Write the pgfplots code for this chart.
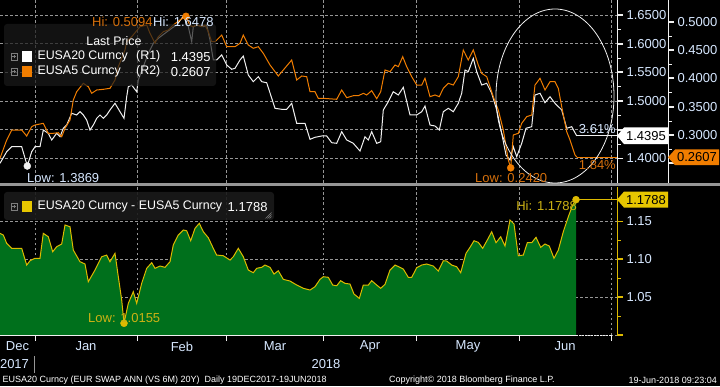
\documentclass[border=0pt]{standalone}
\usepackage{pgfplots}
\pgfplotsset{compat=1.18}
\usepackage{pgfplotstable}
\usepackage{fontspec}
\setmainfont{Liberation Sans}

\definecolor{wline}{RGB}{240,240,240}
\definecolor{oline}{RGB}{240,125,0}
\definecolor{otext}{RGB}{214,112,12}
\definecolor{gfill}{RGB}{0,112,28}
\definecolor{yline}{RGB}{222,186,0}
\definecolor{ytext}{RGB}{205,178,20}
\definecolor{tagy}{RGB}{230,198,0}
\definecolor{gridc}{RGB}{150,150,150}
\definecolor{tickc}{RGB}{215,232,255}
\definecolor{sepc}{RGB}{150,150,150}
\definecolor{legbg}{RGB}{26,26,26}
\definecolor{iconc}{RGB}{125,125,125}

% EUSA20 Curncy (R1), x = trading-day position
\pgfplotstableread{
x y
0 1.3916
6.7 1.4118
11.7 1.4205
21.7 1.4205
27.3 1.3869
31.7 1.4118
35 1.4205
40 1.4205
43.3 1.4496
48.3 1.4439
51.7 1.4322
56.7 1.4439
60 1.4379
63.3 1.4526
66.7 1.4583
71.7 1.4787
76.7 1.4758
80 1.4815
83.3 1.4758
86.7 1.4670
90 1.4496
93.3 1.4583
96.7 1.4700
100 1.4758
103.3 1.4700
106.7 1.4758
110 1.4845
115 1.4961
120 1.4815
124 1.4700
126.7 1.5076
128.3 1.5251
131.7 1.5280
136.7 1.5163
138.3 1.5367
143.3 1.5599
148.3 1.5832
153.3 1.6007
158.3 1.6094
165 1.6181
171.7 1.6268
176.7 1.6325
183.3 1.6478
188.3 1.6296
191.7 1.6035
193.3 1.6296
196.7 1.6325
203.3 1.6296
206.7 1.6325
210 1.6064
213.3 1.5716
216.7 1.5716
221.7 1.5803
226.7 1.5629
231.7 1.5554
235 1.5571
240 1.5716
243.3 1.5785
248.3 1.5454
253.3 1.5338
258.3 1.5425
261.7 1.5338
266.7 1.5320
275 1.4874
281.7 1.4857
286.7 1.4857
291.7 1.4961
296.7 1.4613
305 1.4613
310 1.4334
315 1.4369
321.7 1.4392
326.7 1.4392
331.7 1.4275
336.7 1.4264
341.7 1.4467
346.7 1.4322
353.3 1.4264
360 1.4130
365 1.4379
368.3 1.4322
371.7 1.4467
376.7 1.4264
380.7 1.4292
383.3 1.4845
388.3 1.4989
393.3 1.5163
398.3 1.5106
403.3 1.5240
410 1.4758
416.7 1.4758
421.7 1.4815
425 1.4914
430 1.4583
435 1.4566
439.3 1.4496
443.3 1.4815
448.3 1.4874
453.3 1.4815
458.3 1.4961
461.7 1.5136
465 1.5541
468.3 1.5512
473.3 1.5745
476.7 1.5512
481.7 1.5280
486.7 1.5310
491.7 1.5136
496.7 1.4845
501.7 1.4439
506 1.4061
510 1.3974
513.3 1.4205
516.7 1.4031
521.7 1.4264
526 1.4526
531.7 1.4554
535 1.5106
540 1.5136
545 1.4972
550 1.5076
555 1.4961
561.7 1.4845
566.7 1.4526
571.7 1.4554
576.7 1.4395
}\eusatwenty

% EUSA5 Curncy (R2)
\pgfplotstableread{
x y
0 0.2589
6.7 0.2912
11.7 0.3088
21.7 0.3088
26.7 0.2982
31.7 0.3146
35 0.3176
43.3 0.3206
48.3 0.3030
53.3 0.3030
58.3 0.3040
61.7 0.2970
65 0.3118
70 0.3264
73.3 0.3617
76.7 0.3764
83.3 0.3912
88.3 0.3852
91.7 0.3736
96.7 0.3794
103.3 0.3806
110 0.3824
115 0.3970
118.3 0.4205
121.7 0.4353
125 0.4500
126.7 0.4646
131.7 0.4734
140 0.4911
146.7 0.4941
150 0.4794
155 0.4618
158.3 0.4734
163.3 0.4823
168.3 0.4853
173.3 0.4941
180 0.5029
186 0.5094
190 0.4930
193.3 0.4911
196.7 0.4941
201.7 0.4911
205 0.4941
208.3 0.4823
211.7 0.4646
215 0.4646
221.7 0.4764
226.7 0.4558
235 0.4558
240 0.4618
243.3 0.4764
248.3 0.4588
253.3 0.4530
258.3 0.4558
263.3 0.4441
270 0.4235
278.3 0.4041
283.3 0.4147
291.7 0.4323
296.7 0.3970
301.7 0.4041
306.7 0.4029
310 0.3764
315 0.3764
318.3 0.3647
323.3 0.3647
336.7 0.3630
341.7 0.3794
346.7 0.3658
353.3 0.3693
358.3 0.3693
363.3 0.3735
366.7 0.3706
371.7 0.3782
376.7 0.3640
380.7 0.3764
385 0.4147
390 0.4117
395 0.4235
398.3 0.4205
402.7 0.4381
406.7 0.4205
411.7 0.4029
416.7 0.3882
421.7 0.3882
425 0.4000
430 0.3676
435 0.3706
439.3 0.3676
443.3 0.3824
448.3 0.3912
453.3 0.3882
458.3 0.4029
463.3 0.4500
468.3 0.4323
473.3 0.4500
478.3 0.4235
481.7 0.4088
486.7 0.4029
493.3 0.3676
498.3 0.3441
503.3 0.3088
508.3 0.2559
510.7 0.2420
513.3 0.3000
518.3 0.3030
521.7 0.3206
526.7 0.3323
531.7 0.3353
535 0.3882
540 0.4000
545 0.3794
550 0.3940
555 0.3940
558.3 0.3824
561.7 0.3499
566.7 0.3058
570 0.2912
575 0.2647
577 0.2607
}\eusafive

% EUSA20 - EUSA5
\pgfplotstableread{
x y
0 1.1343
3.3 1.1321
6.7 1.1211
11.7 1.1145
21.7 1.1145
26.7 1.0924
30 1.0981
35 1.1013
40 1.1013
43.3 1.1343
48.3 1.1298
52.7 1.1100
56.7 1.1166
61.7 1.1202
65 1.1453
70 1.1430
73.3 1.1122
80 1.0968
85 1.0938
88.3 1.0704
95 1.0858
101.7 1.1034
106.7 1.1056
110 1.0968
115 1.1079
118.3 1.0770
121.7 1.0462
124 1.0155
128.3 1.0418
133.3 1.0572
136.7 1.0418
141.7 1.0683
146.7 1.0881
151.7 1.0955
155 1.0881
160 1.0911
165 1.0894
170 1.0968
173.3 1.1189
178.3 1.1321
183.3 1.1387
186.7 1.1377
190.7 1.1245
195 1.1409
199.3 1.1475
203.3 1.1364
208.3 1.1285
213.3 1.1145
216.7 1.1056
223.3 1.1047
230 1.0990
233.3 1.1034
238.3 1.1145
243.3 1.1034
248.3 1.0858
253.3 1.0823
256.7 1.0881
261.7 1.0894
265 1.0924
270 1.0894
274 1.0805
278.3 1.0849
283.3 1.0735
290 1.0713
296.7 1.0660
303.3 1.0617
310 1.0594
315 1.0638
320 1.0735
323.3 1.0770
328.3 1.0762
332.7 1.0660
336.7 1.0651
340.7 1.0717
345 1.0682
350 1.0673
354 1.0541
359.3 1.0484
363.3 1.0660
368.3 1.0660
371.7 1.0717
376.7 1.0660
380.7 1.0617
385 1.0669
390 1.0858
395 1.0924
400 1.0894
403.3 1.0871
408.3 1.0762
411.7 1.0762
416.7 1.0889
421.7 1.0924
426.7 1.0938
433.3 1.0911
438.3 1.0845
443.3 1.0981
446.7 1.0977
451.7 1.0924
456.7 1.0902
460.7 1.0823
466 1.1079
470 1.1158
474 1.1245
478.3 1.1224
482.7 1.1145
487.3 1.1255
491.7 1.1364
496 1.1219
500.7 1.1298
505 1.1175
510 1.1519
514 1.1466
518.3 1.1047
523.3 1.1056
527.3 1.1219
531.7 1.1219
536 1.1290
540.7 1.1158
545 1.1202
549.3 1.1175
554 1.1013
558.3 1.1122
563.3 1.1364
568.3 1.1562
572.7 1.1717
576 1.1788
}\spread

\newcommand{\tf}{\fontsize{13}{15}\selectfont}
\newcommand{\lf}{\fontsize{12.4}{14}\selectfont}
\newcommand{\ff}{\fontsize{9}{10}\selectfont}
\newcommand{\icon}[1]{%
  \draw[iconc,line width=0.5pt] (10.8,#1-3.2) rectangle (17.2,#1+3.2);
  \draw[iconc,line width=0.5pt] (12.3,#1) -- (15.7,#1) (14,#1-1.7) -- (14,#1+1.7);}

\begin{document}
\begin{tikzpicture}[x=1pt,y=1pt]
\fill[black] (0,0) rectangle (720,386);
\useasboundingbox (0,0) rectangle (720,386);
\pgfplotsset{
  bb/.style={scale only axis, anchor=south west, width=617pt,
    xmin=0, xmax=617, clip=false, scaled y ticks=false,
    /pgf/number format/assume math mode=true,
    tick align=outside, major tick length=6pt, minor tick length=3.5pt,
    tick label style={font=\tf, text=tickc},
    major grid style={gridc, dash pattern=on 2.5pt off 2.5pt, line width=0.6pt},
    xtick={35,137.3,226.7,323.3,416.7,519,611.7}, xticklabels={},
  },
}
% ---- top panel, right axis 1 (EUSA20)
\begin{axis}[bb, at={(0pt,203pt)}, height=183pt, ymin=1.3573, ymax=1.6761,
  axis x line*=bottom, axis y line*=right,
  x axis line style={draw=none},
  every major x tick/.append style={draw=none},
  y axis line style={wline, line width=0.8pt},
  ytick={1.40,1.45,1.50,1.55,1.60,1.65},
  yticklabels={1.4000,,1.5000,1.5500,1.6000,1.6500},
  minor y tick num=1,
  every major y tick/.append style={wline, line width=1.8pt},
  every minor y tick/.append style={wline, line width=0.6pt},
  xmajorgrids, ymajorgrids]
\addplot[wline, line width=1pt] table {\eusatwenty};
\addplot[wline, line width=1pt] coordinates {(576.7,1.4395) (617,1.4395)};
\addplot[only marks, mark=*, mark size=3.5pt, wline] coordinates {(27.3,1.3869)};
\end{axis}
% ---- top panel, right axis 2 (EUSA5)
\begin{axis}[bb, at={(0pt,203pt)}, height=183pt, ymin=0.2153, ymax=0.5382,
  axis x line=none, axis y line*=right, axis y line shift=51pt,
  y axis line style={wline, line width=0.8pt},
  ytick={0.25,0.30,0.35,0.40,0.45,0.50},
  yticklabels={,0.3000,0.3500,0.4000,0.4500,0.5000},
  minor y tick num=1,
  every major y tick/.append style={wline, line width=1.8pt},
  every minor y tick/.append style={wline, line width=0.6pt}]
\addplot[oline, line width=1pt] table {\eusafive};
\addplot[oline, line width=1pt] coordinates {(577,0.2607) (617,0.2607)};
\addplot[only marks, mark=*, mark size=3.5pt, oline] coordinates {(186,0.5094) (510.7,0.2420)};
\end{axis}
% ---- bottom panel (spread)
\begin{axis}[bb, at={(0pt,51pt)}, height=148pt, ymin=1.0, ymax=1.1955,
  axis x line*=bottom, axis y line*=right,
  x axis line style={draw=none},
  every major x tick/.append style={wline, line width=0.8pt},
  y axis line style={yline, line width=0.8pt},
  ytick={1.00,1.05,1.10,1.15}, yticklabels={,1.05,1.10,1.15}, minor y tick num=1,
  every major y tick/.append style={yline, line width=1.8pt},
  every minor y tick/.append style={yline, line width=0.6pt},
  xmajorgrids, ymajorgrids]
\addplot[fill=gfill, draw=none] table {\spread} -- (axis cs:576,1.0) -- (axis cs:0,1.0) -- cycle;
\addplot[yline, line width=1pt] table {\spread};
\addplot[yline, line width=1pt] coordinates {(576,1.1788) (617,1.1788)};
\addplot[only marks, mark=*, mark size=3.5pt, yline] coordinates {(124,1.0155) (576,1.1788)};
\draw[wline, line width=0.8pt] (axis cs:0,1.0) -- (axis cs:576,1.0);
\draw[wline, line width=0.8pt, dash pattern=on 1.5pt off 1.5pt] (axis cs:576,1.0) -- (axis cs:612,1.0);
\end{axis}

% separator between panels
\fill[sepc] (0,199.5) rectangle (720,203);
% highlight ellipse
\draw[wline, line width=0.8pt] (555,290) ellipse [x radius=59, y radius=87];

% top legend
\fill[legbg, fill opacity=0.7, rounded corners=3pt] (4,300) rectangle (216,362);
\node[white, font=\lf] at (114,345.3) {Last Price};
\icon{329.3}
\icon{314.3}
\fill[white] (21.7,324) rectangle (32.3,335);
\fill[oline] (21.7,309) rectangle (32.3,320);
\node[anchor=west, white, font=\lf, inner sep=0] at (37.3,329.3) {EUSA20 Curncy};
\node[anchor=west, white, font=\lf, inner sep=0] at (136,329.3) {(R1)};
\node[anchor=west, white, font=\tf, inner sep=0] at (170.7,329.3) {1.4395};
\node[anchor=west, white, font=\lf, inner sep=0] at (37.3,314.3) {EUSA5 Curncy};
\node[anchor=west, white, font=\lf, inner sep=0] at (136,314.3) {(R2)};
\node[anchor=west, white, font=\tf, inner sep=0] at (170.7,314.3) {0.2607};

% hi / low annotations (top)
\node[anchor=west, otext, font=\tf, inner sep=0] at (92,364.3) {Hi: 0.5094};
\node[anchor=west, tickc, font=\tf, inner sep=0] at (153,364.3) {Hi: 1.6478};
\node[anchor=west, tickc, font=\tf, inner sep=0] at (27,207.7) {Low: 1.3869};
\node[anchor=west, otext, font=\tf, inner sep=0] at (475,207.7) {Low: 0.2420};
\node[anchor=east, tickc, font=\tf, inner sep=0] at (616,256.7) {3.61\%};
\node[anchor=east, otext, font=\tf, inner sep=0] at (616,221) {1.84\%};

% value tags
\fill[white] (617,250.2) -- (624,258.5) -- (668,258.5) -- (668,241.9) -- (624,241.9) -- cycle;
\node[black, font=\tf, inner sep=0] at (646,250.2) {1.4395};
\fill[oline] (668,228.7) -- (675,236.5) -- (719,236.5) -- (719,220.9) -- (675,220.9) -- cycle;
\node[black, font=\tf, inner sep=0] at (697,228.7) {0.2607};
\fill[tagy] (617,186.4) -- (624,194.4) -- (668,194.4) -- (668,178.4) -- (624,178.4) -- cycle;
\node[black, font=\tf, inner sep=0] at (646,186.4) {1.1788};

% bottom legend
\fill[legbg, fill opacity=0.9, rounded corners=3pt] (4,166) rectangle (274,194);
\icon{179.3}
\fill[tagy] (21.7,174.3) rectangle (32.3,184.8);
\node[anchor=west, white, font=\lf, inner sep=0] at (37.3,179.3) {EUSA20 Curncy - EUSA5 Curncy};
\node[anchor=east, white, font=\tf, inner sep=0] at (267.7,179.3) {1.1788};
\draw[iconc, line width=0.5pt] (265.5,167.5) -- (271.5,173.5) (267.5,167.5) -- (271.5,171.5) (269.5,167.5) -- (271.5,169.5);

% hi / low annotations (bottom)
\node[anchor=east, ytext, font=\tf, inner sep=0] at (577,180.3) {Hi: 1.1788};
\node[anchor=west, ytext, font=\tf, inner sep=0] at (88,67.7) {Low: 1.0155};

% month and year labels
\foreach \m/\xx in {Dec/17.5, Jan/86, Feb/182, Mar/275, Apr/370, May/468, Jun/565}
  \node[tickc, font=\tf, inner sep=0] at (\xx,39.5) {\m};
\node[tickc, font=\tf, inner sep=0] at (14.5,22) {2017};
\node[tickc, font=\tf, inner sep=0] at (326,22) {2018};
\draw[gridc, line width=0.6pt] (34.5,13) -- (34.5,30);

% footer
\node[anchor=west, white, font=\ff, inner sep=0] at (2.3,5.5) {EUSA20 Curncy (EUR SWAP ANN (VS 6M) 20Y)\ \ Daily 19DEC2017-19JUN2018};
\node[anchor=west, white, font=\ff, inner sep=0] at (389,5.5) {Copyright\textcopyright\ 2018 Bloomberg Finance L.P.};
\node[anchor=east, white, font=\ff, inner sep=0] at (717,5.5) {19-Jun-2018 09:23:04};
\end{tikzpicture}
\end{document}
